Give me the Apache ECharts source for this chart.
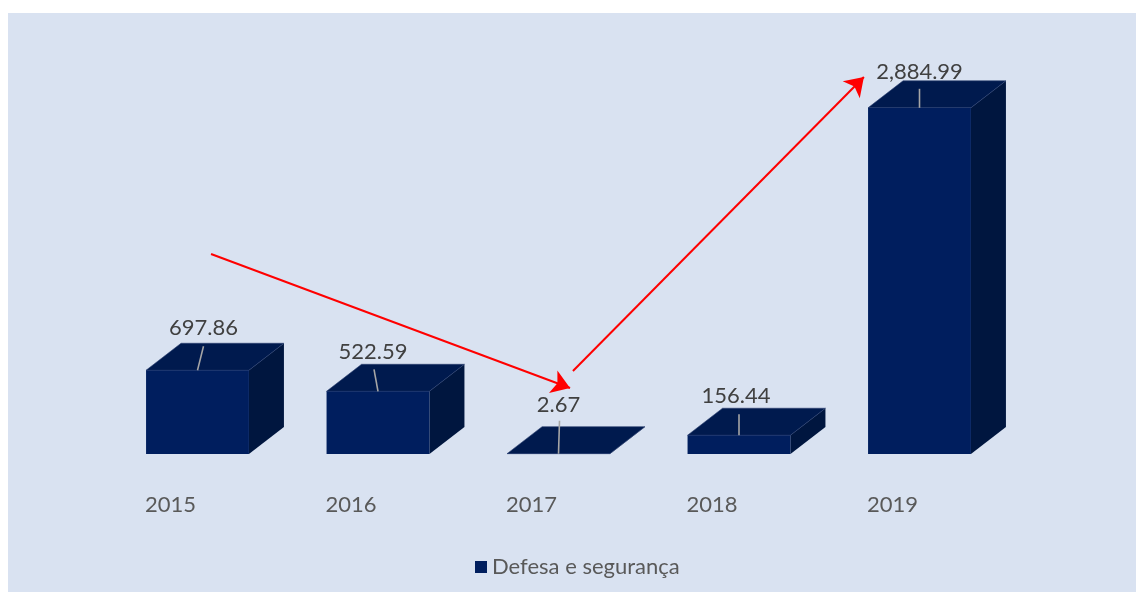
<!DOCTYPE html>
<html>
<head>
<meta charset="utf-8">
<script src="https://cdn.jsdelivr.net/npm/echarts@6/dist/echarts.min.js"></script>
<style>html,body{margin:0;padding:0;background:#fff}#c{width:1136px;height:592px}</style>
</head>
<body>
<div id="c"></div>
<script>
// ---- data ----
const categories = ['2015', '2016', '2017', '2018', '2019'];
const values = [697.86, 522.59, 2.67, 156.44, 2884.99];
const labels = ['697.86', '522.59', '2.67', '156.44', '2,884.99'];
const seriesName = 'Defesa e segurança';
// arrow annotations: [x position in category units, value]
const arrow1 = [[0.075, 1667], [2.064, 550]];
const arrow2 = [[2.080, 692], [3.692, 3142]];

// ---- styles (pixel offsets for labels / leader lines) ----
const labelDx = [6, -5, 0, -3, 0];
const labelDy = [42, 39, 49, 39, 36];
const leaderTilt = [6, -4, 1, 0, 0];
const leaderLen = [24, 22, 33, 21, 19];

const FONT = 'Lato, "Open Sans", sans-serif';
const DEPTH_X = 35, DEPTH_Y = -27;

const chart = echarts.init(document.getElementById('c'));

function renderBar(params, api) {
  const i = params.dataIndex;
  const idx = api.value(0);
  const v = api.value(1);
  const top = api.coord([idx, v]);
  const base = api.coord([idx, 0]);
  const w = api.size([1, 0])[0] * 0.57;
  const x0 = top[0] - w / 2, x1 = top[0] + w / 2;
  const yt = top[1], yb = base[1];
  const front = [[x0, yb], [x1, yb], [x1, yt], [x0, yt]];
  const topFace = [[x0, yt], [x1, yt], [x1 + DEPTH_X, yt + DEPTH_Y], [x0 + DEPTH_X, yt + DEPTH_Y]];
  const side = [[x1, yb], [x1 + DEPTH_X, yb + DEPTH_Y], [x1 + DEPTH_X, yt + DEPTH_Y], [x1, yt]];
  const cx = top[0];
  return {
    type: 'group',
    children: [
      { type: 'polygon', shape: { points: side }, style: { fill: '#00163f' } },
      { type: 'polygon', shape: { points: topFace }, style: { fill: '#001a4e', stroke: '#2a3e6e', lineWidth: 0.6 } },
      { type: 'polygon', shape: { points: front }, style: { fill: '#001e5e' } },
      { type: 'line', shape: { x1: cx, y1: yt, x2: cx + leaderTilt[i], y2: yt - leaderLen[i] },
        style: { stroke: '#a6a6a6', lineWidth: 1.6 } },
      { type: 'text', x: cx + labelDx[i], y: yt - labelDy[i],
        style: { text: labels[i], fill: '#404040', font: '22px ' + FONT, align: 'center', verticalAlign: 'middle' } }
    ]
  };
}

const option = {
  backgroundColor: '#ffffff',
  animation: false,
  graphic: [{
    type: 'rect', z: -10, silent: true,
    shape: { x: 8, y: 13, width: 1128, height: 579 },
    style: { fill: '#d9e2f1' }
  }],
  grid: { left: 107.25, right: 126.25, top: 70, bottom: 138 },
  legend: {
    data: [{ name: seriesName, icon: 'rect' }],
    left: 470, top: 551,
    itemWidth: 12, itemHeight: 12,
    textStyle: { fontSize: 22, color: '#595959', fontFamily: FONT }
  },
  xAxis: [{
    type: 'category', data: categories,
    axisLine: { show: false }, axisTick: { show: false },
    axisLabel: { fontSize: 22, color: '#595959', fontFamily: FONT, margin: 40, padding: [0, 54, 0, 0] }
  }, {
    type: 'value', min: -0.5, max: 4.5, show: false
  }],
  yAxis: { type: 'value', min: 0, max: 3200, show: false },
  series: [{
    name: seriesName,
    type: 'custom',
    renderItem: renderBar,
    itemStyle: { color: '#001e5e' },
    encode: { x: 0, y: 1 },
    data: categories.map((c, i) => [i, values[i]])
  }, {
    type: 'lines',
    coordinateSystem: 'cartesian2d',
    xAxisIndex: 1,
    symbol: ['none', 'arrow'],
    symbolSize: [16, 18],
    lineStyle: { color: '#ff0000', width: 2, opacity: 1, curveness: 0 },
    itemStyle: { color: '#ff0000' },
    silent: true,
    z: 5,
    data: [{ coords: arrow1 }, { coords: arrow2 }]
  }]
};
chart.setOption(option);
</script>
</body>
</html>
